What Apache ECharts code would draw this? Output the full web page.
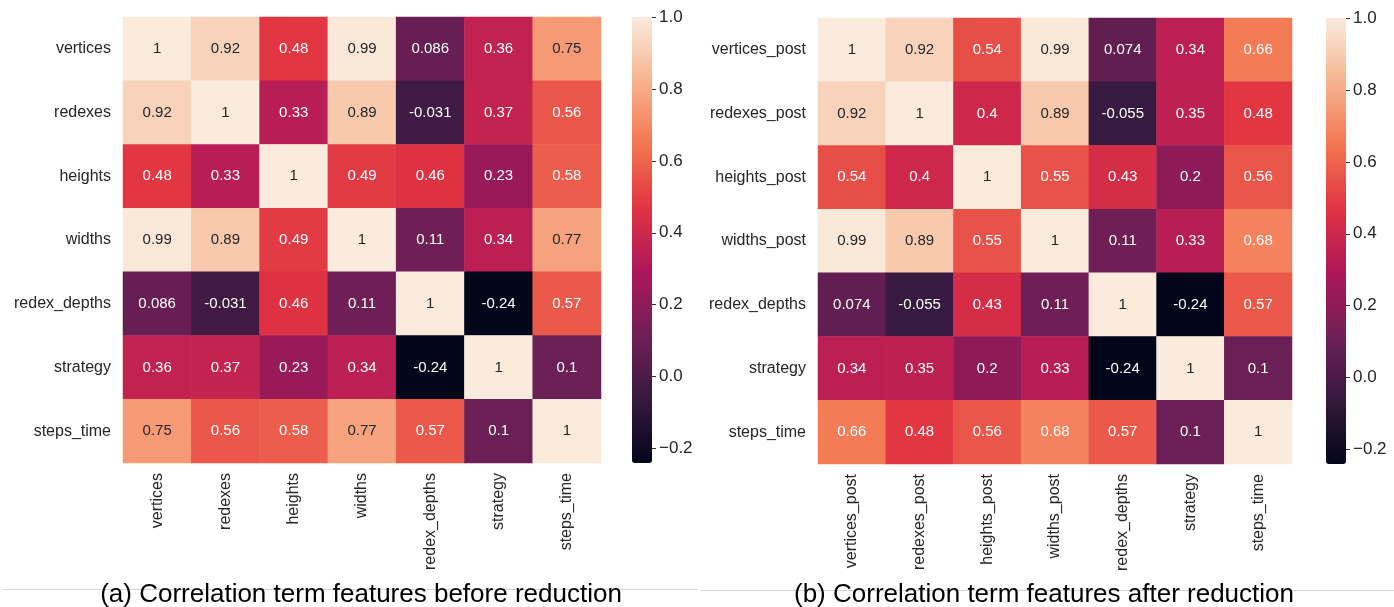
<!DOCTYPE html>
<html>
<head>
<meta charset="utf-8">
<script src="https://cdn.jsdelivr.net/npm/echarts@6/dist/echarts.min.js"></script>
<style>
  html, body { margin: 0; padding: 0; background: #fff; }
  #chart { width: 1394px; height: 607px; }
</style>
</head>
<body>
<div id="chart"></div>
<script>
// Feature names for each correlation matrix
const featuresBefore = ['vertices', 'redexes', 'heights', 'widths', 'redex_depths', 'strategy', 'steps_time'];
const featuresAfter = ['vertices_post', 'redexes_post', 'heights_post', 'widths_post', 'redex_depths', 'strategy', 'steps_time'];

// Correlation coefficients, one row per feature (top to bottom)
const corrBefore = [
  [1, 0.92, 0.48, 0.99, 0.086, 0.36, 0.75],
  [0.92, 1, 0.33, 0.89, -0.031, 0.37, 0.56],
  [0.48, 0.33, 1, 0.49, 0.46, 0.23, 0.58],
  [0.99, 0.89, 0.49, 1, 0.11, 0.34, 0.77],
  [0.086, -0.031, 0.46, 0.11, 1, -0.24, 0.57],
  [0.36, 0.37, 0.23, 0.34, -0.24, 1, 0.1],
  [0.75, 0.56, 0.58, 0.77, 0.57, 0.1, 1]
];
const corrAfter = [
  [1, 0.92, 0.54, 0.99, 0.074, 0.34, 0.66],
  [0.92, 1, 0.4, 0.89, -0.055, 0.35, 0.48],
  [0.54, 0.4, 1, 0.55, 0.43, 0.2, 0.56],
  [0.99, 0.89, 0.55, 1, 0.11, 0.33, 0.68],
  [0.074, -0.055, 0.43, 0.11, 1, -0.24, 0.57],
  [0.34, 0.35, 0.2, 0.33, -0.24, 1, 0.1],
  [0.66, 0.48, 0.56, 0.68, 0.57, 0.1, 1]
];

// Colour scale range and colourbar ticks
const scaleMin = -0.24;
const scaleMax = 1.0;
const tickMin = -0.2;
const tickStep = 0.2;

const captionBefore = '(a) Correlation term features before reduction';
const captionAfter = '(b) Correlation term features after reduction';

// "rocket" sequential palette, evenly spaced stops
const rocket = ['#03051a', '#35193e', '#701f57', '#ad1759', '#e13342', '#f37651', '#f6b48f', '#faebdd'];

const FONT = "'Liberation Sans', Arial, sans-serif";
const TEXT = '#262626';

function hexToRgb(h) {
  return [parseInt(h.substr(1, 2), 16), parseInt(h.substr(3, 2), 16), parseInt(h.substr(5, 2), 16)];
}
// Interpolated palette colour for a value, used to pick a readable annotation colour
function paletteColor(v) {
  const t = Math.min(1, Math.max(0, (v - scaleMin) / (scaleMax - scaleMin))) * (rocket.length - 1);
  const i = Math.min(rocket.length - 2, Math.floor(t));
  const f = t - i;
  const a = hexToRgb(rocket[i]), b = hexToRgb(rocket[i + 1]);
  return a.map((c, k) => c + (b[k] - c) * f);
}
function luminance(rgb) {
  const lin = rgb.map(c => {
    c /= 255;
    return c <= 0.03928 ? c / 12.92 : Math.pow((c + 0.055) / 1.055, 2.4);
  });
  return 0.2126 * lin[0] + 0.7152 * lin[1] + 0.0722 * lin[2];
}

function cells(matrix) {
  const out = [];
  matrix.forEach((row, y) => {
    row.forEach((v, x) => {
      out.push({
        value: [x, y, v],
        label: { color: luminance(paletteColor(v)) > 0.408 ? TEXT : '#ffffff' }
      });
    });
  });
  return out;
}

// Panel placement
const panels = [
  { grid: { left: 123, top: 17, width: 478, height: 446 }, bar: { left: 632, top: 17 }, names: featuresBefore, data: corrBefore },
  { grid: { left: 818, top: 18, width: 474, height: 446 }, bar: { left: 1326, top: 18 }, names: featuresAfter, data: corrAfter }
];

const grid = [], xAxis = [], yAxis = [], series = [], visualMap = [];

panels.forEach((p, i) => {
  // heatmap grid
  grid.push(p.grid);
  xAxis.push({
    type: 'category', gridIndex: 2 * i, data: p.names,
    axisLine: { show: false }, axisTick: { show: false }, splitArea: { show: false },
    axisLabel: { rotate: 90, margin: 10, fontSize: 16, color: TEXT, fontFamily: FONT, interval: 0 }
  });
  yAxis.push({
    type: 'category', gridIndex: 2 * i, data: p.names, inverse: true,
    axisLine: { show: false }, axisTick: { show: false }, splitArea: { show: false },
    axisLabel: { margin: 12, fontSize: 16, color: TEXT, fontFamily: FONT, interval: 0 }
  });
  series.push({
    type: 'heatmap', xAxisIndex: 2 * i, yAxisIndex: 2 * i,
    data: cells(p.data),
    label: { show: true, fontSize: 15, fontFamily: FONT, formatter: d => String(d.value[2]) },
    itemStyle: { borderWidth: 0 },
    emphasis: { disabled: true },
    silent: true
  });
  visualMap.push({
    type: 'continuous', seriesIndex: i, dimension: 2,
    min: scaleMin, max: scaleMax,
    left: p.bar.left, top: p.bar.top, padding: 0,
    itemWidth: 20, itemHeight: p.grid.height,
    calculable: false, hoverLink: false, showLabel: false,
    inRange: { color: rocket }
  });

  // colourbar tick strip just right of the colour bar, spanning the tick range (-0.2 .. 1.0);
  // its split lines form the short tick marks
  const tickSpan = p.grid.height * (scaleMax - tickMin) / (scaleMax - scaleMin);
  grid.push({ left: p.bar.left + 20, top: p.bar.top, width: 4, height: tickSpan });
  xAxis.push({ type: 'value', gridIndex: 2 * i + 1, show: false, min: 0, max: 1 });
  yAxis.push({
    type: 'value', gridIndex: 2 * i + 1, position: 'right',
    min: tickMin, max: scaleMax, interval: tickStep,
    splitLine: { show: true, lineStyle: { color: '#333', width: 1 } },
    axisLine: { show: false }, axisTick: { show: false },
    axisLabel: {
      margin: 3, fontSize: 17, color: TEXT, fontFamily: FONT,
      showMinLabel: true, showMaxLabel: true,
      formatter: v => (v < -1e-9 ? '\u2212' : '') + Math.abs(v).toFixed(1)
    }
  });
});

const chart = echarts.init(document.getElementById('chart'), null, { renderer: 'canvas' });
chart.setOption({
  backgroundColor: '#ffffff',
  animation: false,
  grid, xAxis, yAxis, series, visualMap,
  graphic: [
    { type: 'line', shape: { x1: 3, y1: 589.5, x2: 698, y2: 589.5 }, style: { stroke: '#d4d4d4', lineWidth: 1 }, z: 1 },
    { type: 'line', shape: { x1: 700, y1: 590.5, x2: 1394, y2: 590.5 }, style: { stroke: '#d4d4d4', lineWidth: 1 }, z: 1 },
    { type: 'text', x: 361, y: 595, z: 2, style: { text: captionBefore, font: '26px ' + FONT, fill: '#000', textAlign: 'center', textVerticalAlign: 'middle' } },
    { type: 'text', x: 1044, y: 595, z: 2, style: { text: captionAfter, font: '26px ' + FONT, fill: '#000', textAlign: 'center', textVerticalAlign: 'middle' } }
  ]
});
</script>
</body>
</html>
